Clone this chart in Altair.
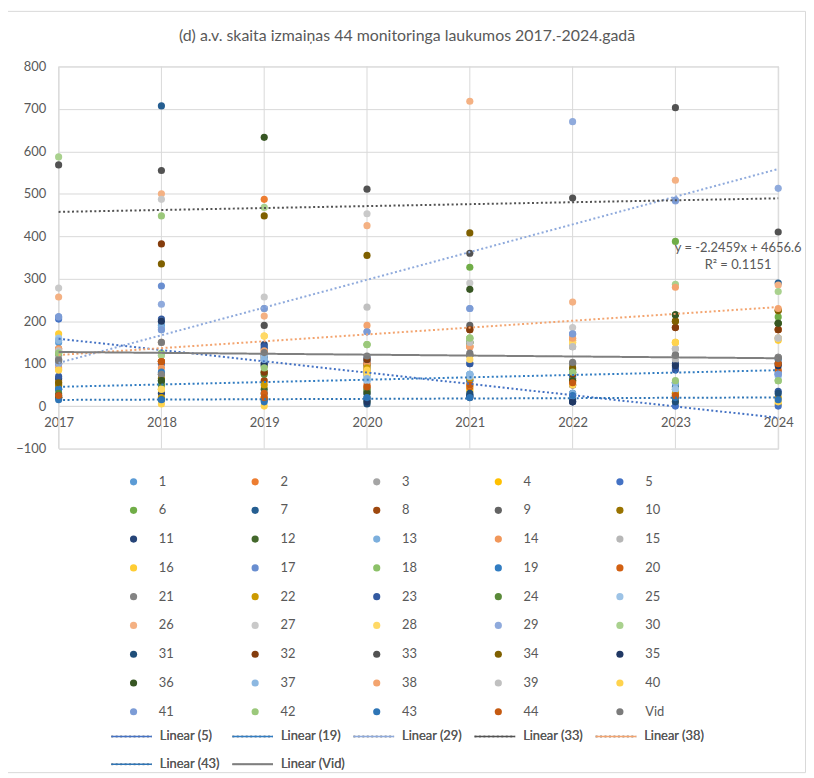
import altair as alt
import pandas as pd

years = [2017, 2018, 2019, 2020, 2021, 2022, 2023, 2024]

s1 = [150, 190, 95, 60, 75, 25, 55, 75]
s2 = [60, 105, 487, 45, 140, 155, 30, 100]
s3 = [120, 100, 110, 95, 120, 140, 135, 160]
s4 = [50, 40, 20, 80, 40, 60, 10, 5]
s5 = [205, 100, 120, 30, 60, 10, 0, 0]
s6 = [125, 60, 80, 10, 327, 80, 388, 210]
s7 = [40, 707, 135, 20, 25, 30, 45, 290]
s8 = [135, 105, 60, 100, 180, 65, 185, 180]
s9 = [100, 75, 115, 105, 190, 100, 120, 115]
s10 = [50, 65, 95, 95, 120, 80, 200, 225]
s11 = [65, 30, 145, 15, 25, 10, 100, 100]
s12 = [20, 60, 40, 35, 150, 60, 215, 195]
s13 = [155, 185, 110, 70, 75, 30, 55, 75]
s14 = [90, 90, 130, 100, 140, 160, 25, 180]
s15 = [110, 120, 100, 90, 120, 140, 110, 160]
s16 = [170, 40, 165, 80, 35, 150, 150, 155]
s17 = [210, 283, 100, 115, 100, 170, 90, 80]
s18 = [125, 125, 80, 145, 160, 80, 40, 60]
s19 = [40, 80, 30, 75, 60, 70, 55, 110]
s20 = [20, 105, 30, 50, 45, 50, 20, 85]
s21 = [110, 75, 120, 85, 120, 100, 120, 115]
s22 = [55, 20, 50, 90, 65, 60, 30, 20]
s23 = [70, 205, 140, 110, 100, 50, 85, 35]
s24 = [30, 50, 75, 40, 150, 85, 20, 195]
s25 = [160, 200, 120, 60, 70, 20, 40, 70]
s26 = [257, 500, 212, 425, 718, 245, 532, 285]
s27 = [278, 487, 257, 453, 290, 185, 135, 160]
s28 = [85, 40, 165, 75, 110, 150, 150, 160]
s29 = [100, 240, 230, 175, 230, 670, 483, 513]
s30 = [587, 120, 468, 145, 160, 80, 287, 270]
s31 = [20, 15, 15, 5, 30, 15, 10, 30]
s32 = [130, 382, 80, 110, 180, 75, 185, 180]
s33 = [568, 555, 190, 511, 360, 490, 703, 410]
s34 = [55, 335, 448, 355, 408, 90, 200, 225]
s35 = [25, 200, 100, 10, 20, 10, 95, 95]
s36 = [20, 60, 633, 30, 275, 60, 215, 195]
s37 = [155, 180, 110, 65, 75, 25, 55, 75]
s38 = [135, 150, 130, 190, 140, 160, 280, 230]
s39 = [130, 150, 230, 233, 150, 140, 135, 160]
s40 = [85, 5, 0, 85, 50, 50, 150, 10]
s41 = [210, 180, 230, 175, 230, 170, 485, 75]
s42 = [125, 448, 90, 145, 160, 80, 60, 60]
s43 = [15, 15, 10, 20, 20, 25, 20, 15]
s44 = [25, 105, 20, 45, 50, 55, 25, 100]
svid = [107, 150, 126, 118, 125, 103, 120, 112]

series_values = [s1, s2, s3, s4, s5, s6, s7, s8, s9, s10, s11, s12, s13, s14, s15,
                 s16, s17, s18, s19, s20, s21, s22, s23, s24, s25, s26, s27, s28, s29, s30,
                 s31, s32, s33, s34, s35, s36, s37, s38, s39, s40, s41, s42, s43, s44, svid]
series_names = [str(i) for i in range(1, 45)] + ["Vid"]
series_colors = [
    "#5B9BD5", "#ED7D31", "#A5A5A5", "#FFC000", "#4472C4", "#70AD47",
    "#255E91", "#9E480E", "#636363", "#997300", "#264478", "#43682B",
    "#7CAFDD", "#F1975A", "#B7B7B7", "#FFCD33", "#698ED0", "#8CC168",
    "#327DC2", "#D26012", "#848484", "#CC9A00", "#335AA1", "#5A8A39",
    "#9DC3E6", "#F4B183", "#C9C9C9", "#FFD966", "#8FAADC", "#A9D18E",
    "#1F4E79", "#843C0C", "#525252", "#7F6000", "#203864", "#375623",
    "#8CB8E1", "#F3A46F", "#C0C0C0", "#FFD34D", "#7C9CD6", "#9BC87B",
    "#2E75B6", "#C55A11", "#7B7B7B",
]

trend_series = ["5", "19", "29", "33", "38", "43", "Vid"]
trend_names = ["Linear (5)", "Linear (19)", "Linear (29)", "Linear (33)",
               "Linear (38)", "Linear (43)", "Linear (Vid)"]
trend_colors = ["#4472C4", "#327DC2", "#8FAADC", "#525252", "#F3A46F", "#2E75B6", "#7F7F7F"]
trend_dash = [[2, 2.5]] * 6 + [[1, 0]]
trend_width = [2, 2, 2, 2, 2, 2, 3]

title_text = "(d) a.v. skaita izmaiņas 44 monitoringa laukumos 2017.-2024.gadā"
eq_text = "y = -2.2459x + 4656.6"
r2_text = "R² = 0.1151"

rows = []
for name, vals in zip(series_names, series_values):
    for yr, v in zip(years, vals):
        rows.append({"series": name, "year": yr, "value": v})
df = pd.DataFrame(rows)

FONT = "Lato"
TXT = "#595959"
GRID = "#D9D9D9"
W, H = 725, 385

xscale = alt.Scale(domain=[2017, 2024], nice=False, zero=False)
yscale = alt.Scale(domain=[-100, 800], nice=False)

grid_x = alt.Chart(pd.DataFrame({"year": years})).mark_rule(
    color=GRID, strokeWidth=1
).encode(
    x=alt.X("year:Q", scale=xscale,
            axis=alt.Axis(values=years, format="d", grid=False, ticks=False,
                          domain=True, domainColor=GRID, offset=-43,
                          labelPadding=11, labelFlush=False, labelFont=FONT,
                          labelFontSize=13, labelColor=TXT, title=None))
)

points = alt.Chart(df).mark_circle(size=52, opacity=1).encode(
    x=alt.X("year:Q", scale=xscale),
    y=alt.Y("value:Q", scale=yscale,
            axis=alt.Axis(values=list(range(-100, 900, 100)), grid=True,
                          gridColor=GRID, domain=False, ticks=False,
                          labelFont=FONT, labelFontSize=13, labelColor=TXT,
                          labelPadding=13, title=None)),
    color=alt.Color("series:N",
                    scale=alt.Scale(domain=series_names, range=series_colors),
                    legend=alt.Legend(title=None, orient="none", legendX=69,
                                      legendY=411, columns=5, direction="horizontal",
                                      gridAlign="each", symbolLimit=0,
                                      symbolType="circle", symbolSize=52,
                                      symbolStrokeWidth=0, labelFont=FONT,
                                      labelFontSize=13, labelColor=TXT,
                                      labelOffset=19, columnPadding=74.5,
                                      rowPadding=14, clipHeight=14.4)),
)

trend_legend = alt.Legend(title=None, orient="none", legendX=52, legendY=668,
                          columns=5, direction="horizontal", gridAlign="all",
                          symbolType="stroke",
                          symbolSize=1681, labelFont=FONT, labelFontSize=13,
                          labelColor=TXT, labelOffset=7, columnPadding=7,
                          rowPadding=14, clipHeight=14)

trends = alt.Chart(df).transform_filter(
    alt.FieldOneOfPredicate(field="series", oneOf=trend_series)
).transform_calculate(
    trend="'Linear (' + datum.series + ')'"
).transform_regression(
    "year", "value", groupby=["trend"]
).mark_line().encode(
    x=alt.X("year:Q", scale=xscale),
    y=alt.Y("value:Q", scale=yscale),
    color=alt.Color("trend:N", scale=alt.Scale(domain=trend_names, range=trend_colors),
                    legend=trend_legend),
    strokeDash=alt.StrokeDash("trend:N", scale=alt.Scale(domain=trend_names, range=trend_dash),
                              legend=trend_legend),
    strokeWidth=alt.StrokeWidth("trend:N", scale=alt.Scale(domain=trend_names, range=trend_width),
                                legend=trend_legend),
)

ann = pd.DataFrame({"label": [eq_text, r2_text], "year": [2023.61, 2023.61],
                    "value": [372, 332]})
annot = alt.Chart(ann).mark_text(font=FONT, fontSize=13, color=TXT,
                                 align="center", baseline="middle").encode(
    x=alt.X("year:Q", scale=xscale),
    y=alt.Y("value:Q", scale=yscale),
    text="label:N",
)

title = alt.Chart(pd.DataFrame({"t": [title_text]})).mark_text(
    font=FONT, fontSize=16, color=TXT, align="center", baseline="middle"
).encode(x=alt.value(351), y=alt.value(-31), text="t:N")

frame = alt.Chart(pd.DataFrame({"a": [0]})).mark_rect(
    fill="transparent", stroke=GRID, strokeWidth=1
).encode(
    x=alt.value(-51.5), x2=alt.value(W + 27.5),
    y=alt.value(-55.5), y2=alt.value(H + 326.5),
)

chart = alt.layer(frame, title, grid_x, points, trends, annot).resolve_scale(
    color="independent"
).properties(
    width=W, height=H,
    autosize=alt.AutoSizeParams(type="none"),
    padding={"left": 51, "top": 56, "right": 28, "bottom": 327},
).configure_view(stroke=None).configure(background="white")

chart.save("out.html", embed_options={"renderer": "svg", "actions": False})
